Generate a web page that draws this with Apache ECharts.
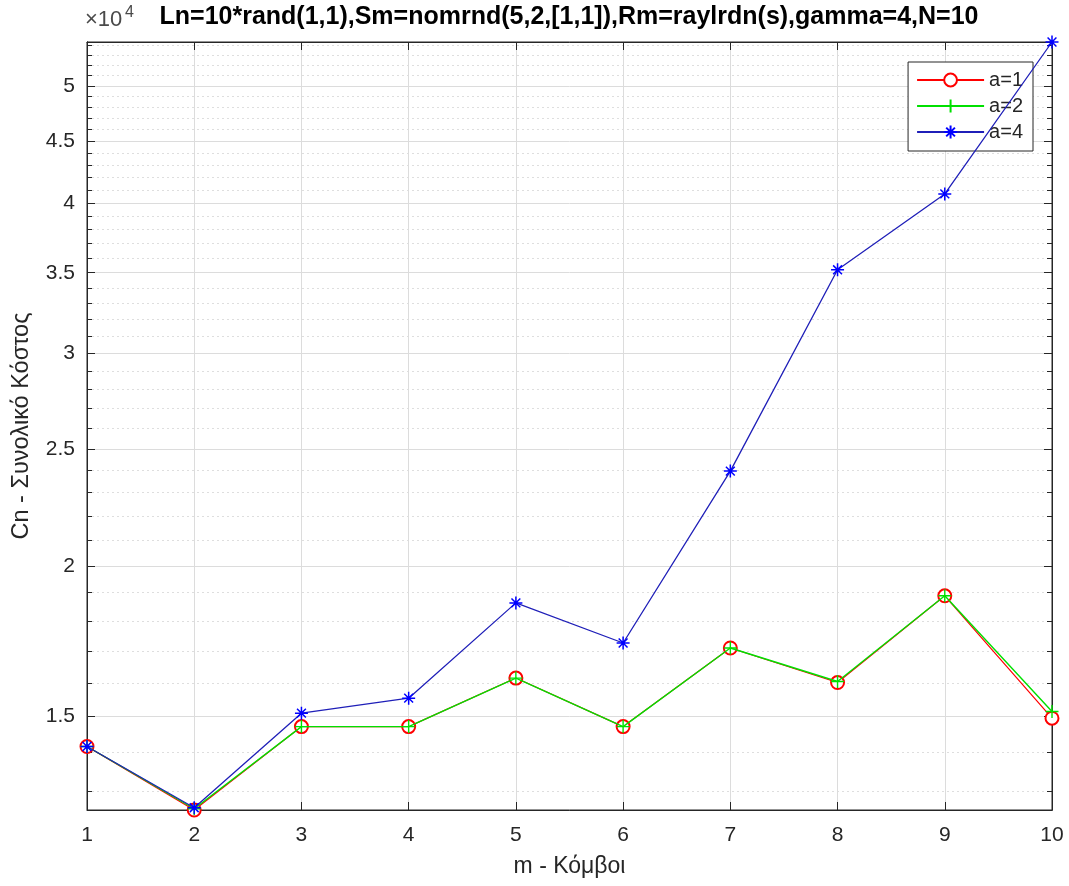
<!DOCTYPE html>
<html>
<head>
<meta charset="utf-8">
<script src="https://cdn.jsdelivr.net/npm/echarts@6/dist/echarts.min.js"></script>
<style>
html,body{margin:0;padding:0;background:#fff;}
#c{width:1069px;height:886px;}
</style>
</head>
<body>
<div id="c"></div>
<script>
// ---- data ----
const xValues = [1, 2, 3, 4, 5, 6, 7, 8, 9, 10];
const seriesNames = ['a=1', 'a=2', 'a=4'];
const a1 = [14167, 12550, 14716, 14716, 16144, 14716, 17098, 16007, 18890, 14954];
const a2 = [14167, 12580, 14716, 14716, 16144, 14716, 17098, 16038, 18890, 15144];
const a4 = [14167, 12605, 15098, 15537, 18636, 17262, 23966, 35195, 40680, 54366];
const yMajorTicks = [15000, 20000, 25000, 30000, 35000, 40000, 45000, 50000];
const yMinorTicks = [13000, 14000, 16000, 17000, 18000, 19000, 21000, 22000, 23000, 24000,
  26000, 27000, 28000, 29000, 31000, 32000, 33000, 34000, 36000, 37000, 38000, 39000,
  41000, 42000, 43000, 44000, 46000, 47000, 48000, 49000, 51000, 52000, 53000, 54000];
const titleText = 'Ln=10*rand(1,1),Sm=nomrnd(5,2,[1,1]),Rm=raylrdn(s),gamma=4,N=10';
const xName = 'm - Κόμβοι';
const yName = 'Cn - Συνολικό Κόστος';

const allVals = a1.concat(a2, a4);
const yMin = Math.min.apply(null, allVals);
const yMax = Math.max.apply(null, allVals);

const FONT = '"Liberation Sans", Arial, Helvetica, sans-serif';
const TXT = '#262626';
const pts = (arr) => xValues.map((x, i) => [x, arr[i]]);

const plusPath = 'path://M5,0L5,10M0,5L10,5';
const starPath = 'path://M5,0L5,10M0,5L10,5M1.6,1.6L8.4,8.4M8.4,1.6L1.6,8.4';

function yAxisBase(pos, ticks, len, showLabel, splitStyle) {
  return {
    type: 'log', logBase: 10, min: yMin, max: yMax, position: pos,
    axisLine: { show: true, onZero: false, lineStyle: { color: TXT, width: 1 } },
    axisTick: { show: true, inside: true, length: len, customValues: ticks, lineStyle: { color: TXT, width: 1 } },
    axisLabel: showLabel ? {
      show: true, customValues: ticks, margin: 12, color: TXT, fontSize: 21, fontFamily: FONT,
      formatter: (v) => String(Math.round(v / 1000) / 10)
    } : { show: false, customValues: ticks },
    splitLine: splitStyle ? { show: true, lineStyle: splitStyle } : { show: false },
    minorTick: { show: false }, minorSplitLine: { show: false }
  };
}

const chart = echarts.init(document.getElementById('c'), null, { renderer: 'canvas' });
chart.setOption({
  animation: false,
  backgroundColor: '#fff',
  title: {
    text: titleText, left: 569, top: 5, textAlign: 'center', padding: 0,
    textStyle: { fontFamily: FONT, fontSize: 25, fontWeight: 'bold', color: '#000' }
  },
  graphic: [
    { type: 'text', left: 85, top: 9, style: { text: '×10', font: '22px ' + FONT, fill: '#4a4a4a' } },
    { type: 'text', left: 125, top: 5, style: { text: '4', font: '16px ' + FONT, fill: '#4a4a4a' } }
  ],
  grid: { left: 87, right: 17, top: 42, bottom: 76, show: true, borderColor: TXT, borderWidth: 1, backgroundColor: '#fff' },
  legend: {
    data: seriesNames, orient: 'vertical', right: 36, top: 62,
    backgroundColor: '#fff', borderColor: TXT, borderWidth: 1, borderRadius: 0,
    padding: [8, 10, 9, 8], itemWidth: 67, itemHeight: 16, itemGap: 6,
    textStyle: { fontFamily: FONT, fontSize: 20, color: TXT }
  },
  xAxis: [
    {
      type: 'value', min: 1, max: 10, interval: 1, position: 'bottom',
      name: xName, nameLocation: 'middle', nameGap: 45,
      nameTextStyle: { fontFamily: FONT, fontSize: 23, color: TXT },
      axisLine: { show: true, onZero: false, lineStyle: { color: TXT, width: 1 } },
      axisTick: { show: true, inside: true, length: 8, lineStyle: { color: TXT } },
      axisLabel: { margin: 15, color: TXT, fontSize: 21, fontFamily: FONT },
      splitLine: { show: true, lineStyle: { color: '#dcdcdc', width: 1 } }
    },
    {
      type: 'value', min: 1, max: 10, interval: 1, position: 'top',
      axisLine: { show: true, onZero: false, lineStyle: { color: TXT, width: 1 } },
      axisTick: { show: true, inside: true, length: 8, lineStyle: { color: TXT } },
      axisLabel: { show: false }, splitLine: { show: false }
    }
  ],
  yAxis: [
    Object.assign(yAxisBase('left', yMajorTicks, 8, true, { color: '#dcdcdc', width: 1 }), {
      name: yName, nameLocation: 'middle', nameGap: 53, nameRotate: 90,
      nameTextStyle: { fontFamily: FONT, fontSize: 23.5, color: TXT }
    }),
    yAxisBase('left', yMinorTicks, 5, false, { color: '#dedede', width: 1, type: [2, 3] }),
    yAxisBase('right', yMajorTicks, 8, false, null),
    yAxisBase('right', yMinorTicks, 5, false, null)
  ],
  series: [
    {
      name: seriesNames[0], type: 'line', data: pts(a1), xAxisIndex: 0, yAxisIndex: 0,
      symbol: 'emptyCircle', symbolSize: 13, showAllSymbol: true,
      lineStyle: { color: '#ff0000', width: 1.2 },
      itemStyle: { color: '#ff0000', borderColor: '#ff0000', borderWidth: 1.2 },
      z: 3
    },
    {
      name: seriesNames[1], type: 'line', data: pts(a2), xAxisIndex: 0, yAxisIndex: 0,
      symbol: plusPath, symbolSize: 13, showAllSymbol: true,
      lineStyle: { color: '#00e000', width: 1.4 },
      itemStyle: { color: '#00e000', borderColor: '#00e000', borderWidth: 1.4 },
      z: 4
    },
    {
      name: seriesNames[2], type: 'line', data: pts(a4), xAxisIndex: 0, yAxisIndex: 0,
      symbol: starPath, symbolSize: 13, showAllSymbol: true,
      lineStyle: { color: '#1f1fb8', width: 1.3 },
      itemStyle: { color: '#0000ff', borderColor: '#0000ff', borderWidth: 1.5 },
      z: 5
    }
  ]
});
</script>
</body>
</html>
